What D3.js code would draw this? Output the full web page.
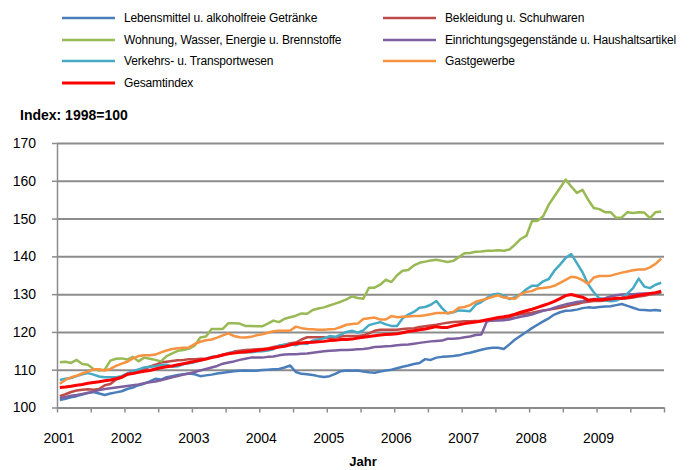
<!DOCTYPE html>
<html>
<head>
<meta charset="utf-8">
<script src="https://cdn.jsdelivr.net/npm/d3@7"></script>
<style>
  body { margin: 0; background: #fff; }
  svg { display: block; font-family: "Liberation Sans", Arial, sans-serif; }
</style>
</head>
<body>
<svg id="chart" width="690" height="470"></svg>
<script>
// monthly values, Jan 2001 .. Dec 2009 (Index 1998 = 100)
var lebensmittel = [
  102.0, 102.3, 102.7, 103.0, 103.4, 103.8, 104.1, 103.7, 103.3, 103.7, 104.0, 104.3,
  104.9, 105.3, 105.9, 106.3, 106.9, 107.6, 107.4, 108.0, 108.3, 108.6, 108.8, 109.0,
  108.8, 108.3, 108.5, 108.7, 109.0, 109.2, 109.4, 109.6, 109.7, 109.8, 109.7, 109.7,
  109.9, 110.0, 110.1, 110.2, 110.6, 111.1, 109.4, 108.9, 108.8, 108.6, 108.3, 108.1,
  108.3, 108.9, 109.6, 109.8, 109.7, 109.8, 109.5, 109.3, 109.2, 109.5, 109.8, 110.0,
  110.4, 110.8, 111.1, 111.5, 111.8, 112.8, 112.6, 113.2, 113.4, 113.5, 113.6, 113.8,
  114.2, 114.5, 114.9, 115.3, 115.6, 115.8, 115.8, 115.5, 116.7, 118.0, 119.0, 120.0,
  121.0, 121.9, 122.8, 123.6, 124.6, 125.2, 125.6, 125.7, 125.9, 126.3, 126.5, 126.4,
  126.6, 126.7, 126.8, 127.1, 127.4, 126.9, 126.4, 125.9, 125.8, 125.7, 125.8, 125.6
];
var bekleidung = [
  103.0, 103.5, 104.1, 104.5, 104.7, 104.8, 104.7, 104.9, 105.9, 106.2, 107.4, 107.9,
  108.7, 109.2, 109.6, 110.0, 110.8, 111.3, 111.9, 112.1, 112.3, 112.5, 112.6, 112.8,
  112.8, 112.9, 113.0, 113.3, 113.6, 114.0, 114.3, 114.8, 115.0, 115.2, 115.3, 115.4,
  115.5, 115.6, 116.0, 116.3, 116.6, 117.0, 117.2, 118.0, 118.6, 118.6, 118.6, 118.6,
  118.3, 118.5, 118.8, 118.9, 118.9, 118.9, 119.1, 119.6, 120.3, 120.6, 120.6, 120.6,
  120.6, 120.8, 120.9, 121.0, 121.3, 121.5, 121.7, 121.9, 122.2, 122.4, 122.6, 122.7,
  122.8, 122.8, 122.9, 122.9, 122.9, 123.0, 123.2, 123.5, 123.8, 124.5, 124.7, 124.9,
  125.1, 125.4, 125.7, 125.9, 126.1, 126.4, 126.7, 127.1, 127.4, 127.8, 128.0, 128.2,
  128.2, 128.3, 128.5, 128.7, 128.8, 128.9, 129.1, 129.4, 129.6, 129.9, 130.1, 130.5
];
var wohnung = [
  112.0, 112.1, 111.8, 112.6, 111.5, 111.3, 110.2, 109.8, 110.0, 112.4, 112.9, 113.0,
  112.7, 113.4, 112.2, 113.2, 112.9, 112.6, 112.2, 113.6, 114.3, 115.0, 115.2, 115.6,
  116.4, 118.5, 118.8, 120.8, 120.8, 120.8, 122.3, 122.3, 122.2, 121.6, 121.6, 121.5,
  121.5, 122.2, 123.0, 122.6, 123.5, 123.9, 124.3, 124.9, 124.8, 125.8, 126.2, 126.5,
  127.0, 127.5, 128.0, 128.6, 129.4, 129.0, 128.8, 131.7, 131.7, 132.5, 133.8, 133.2,
  135.0, 136.2, 136.4, 137.6, 138.3, 138.6, 138.9, 139.1, 138.8, 138.5, 138.8, 139.8,
  140.8, 140.9, 141.2, 141.3, 141.5, 141.5, 141.6, 141.5, 141.8, 143.1, 144.6, 145.4,
  149.3, 149.4, 150.6, 153.7, 155.9, 158.1, 160.3, 158.5, 156.8, 157.6, 155.0, 152.8,
  152.5, 151.7, 151.7, 150.2, 150.3, 151.7, 151.5, 151.7, 151.6, 150.1, 151.7, 151.9
];
var einrichtung = [
  102.5, 102.8, 103.1, 103.3, 103.6, 103.9, 104.2, 104.6, 104.9, 105.1, 105.3, 105.5,
  105.7, 105.9, 106.1, 106.4, 106.7, 106.9, 107.2, 107.6, 108.0, 108.3, 108.7, 109.0,
  109.4, 109.8, 110.2, 110.6, 111.0, 111.6, 111.9, 112.2, 112.6, 112.9, 113.2, 113.2,
  113.2, 113.4, 113.5, 113.8, 114.0, 114.1, 114.1, 114.2, 114.3, 114.5, 114.7, 114.9,
  115.0, 115.1, 115.2, 115.2, 115.3, 115.4, 115.5, 115.7, 116.0, 116.1, 116.2, 116.3,
  116.5, 116.6, 116.7, 116.9, 117.1, 117.3, 117.5, 117.6, 117.7, 118.2, 118.2, 118.3,
  118.6, 118.8, 119.2, 119.3, 122.8, 123.0, 123.0, 123.1, 123.3, 123.7, 124.0, 124.3,
  124.6, 125.1, 125.6, 125.9, 126.4, 126.9, 127.3, 127.6, 127.9, 128.1, 128.4, 128.7,
  128.7, 128.9, 129.4, 129.7, 129.9, 130.0, 130.0, 130.1, 130.2, 130.2, 130.3, 130.5
];
var verkehr = [
  107.3, 107.6, 107.8, 108.3, 108.8, 109.1, 108.7, 108.2, 108.0, 108.0, 108.0, 108.3,
  109.0, 109.6, 110.1, 110.6, 110.8, 110.9, 111.2, 111.3, 110.8, 110.9, 111.5, 111.7,
  112.0, 112.4, 112.8, 113.4, 113.5, 113.8, 114.4, 114.6, 114.7, 114.6, 114.6, 114.8,
  114.9, 115.1, 115.4, 116.4, 116.6, 116.8, 116.5, 117.0, 116.8, 117.7, 118.0, 118.3,
  118.9, 118.7, 119.3, 120.0, 120.3, 119.8, 120.4, 121.8, 122.2, 122.6, 122.0, 121.6,
  121.6, 123.6, 124.6, 125.3, 126.4, 126.6, 127.2, 128.2, 126.3, 124.9, 125.2, 125.7,
  125.6, 125.5, 127.2, 127.9, 129.0, 129.9, 130.1, 129.6, 128.7, 129.2, 130.0, 131.3,
  132.2, 132.2, 133.4, 134.0, 136.2, 137.8, 139.6, 140.6, 138.2, 135.8, 132.6, 130.5,
  128.9, 128.4, 128.1, 128.3, 129.0, 130.2, 131.6, 134.1, 132.0, 131.6, 132.5, 133.0
];
var gastgewerbe = [
  106.3, 107.3, 108.0, 108.4, 109.0, 109.5, 110.1, 110.1, 109.8, 110.2, 111.0, 111.6,
  112.1, 113.0, 113.6, 113.8, 113.8, 114.0, 114.6, 115.1, 115.5, 115.7, 115.8, 115.9,
  116.8, 117.4, 117.8, 118.0, 118.5, 119.1, 119.6, 118.9, 118.6, 118.5, 118.7, 119.1,
  119.4, 119.8, 120.2, 120.3, 120.3, 120.4, 121.4, 121.0, 120.8, 120.7, 120.6, 120.6,
  120.7, 120.8, 121.3, 121.9, 122.1, 122.2, 123.4, 123.6, 123.8, 123.3, 123.3, 124.2,
  123.9, 124.0, 124.1, 124.2, 124.2, 124.4, 124.7, 125.0, 125.0, 125.0, 125.3, 126.4,
  126.6, 127.1, 128.0, 128.4, 128.8, 129.3, 129.7, 129.1, 128.9, 128.8, 130.0, 130.6,
  130.8, 131.5, 131.6, 131.8, 132.2, 133.0, 133.8, 134.6, 134.4, 133.7, 132.7, 134.4,
  134.8, 134.8, 134.9, 135.3, 135.7, 136.0, 136.3, 136.5, 136.5, 137.1, 138.0, 139.4
];
var gesamtindex = [
  105.3, 105.4, 105.6, 105.9, 106.1, 106.4, 106.6, 106.8, 107.1, 107.3, 107.6, 108.0,
  108.8, 109.0, 109.3, 109.6, 109.8, 110.2, 110.5, 110.8, 111.0, 111.3, 111.6, 111.9,
  112.2, 112.5, 112.8, 113.2, 113.5, 113.9, 114.2, 114.4, 114.6, 114.7, 114.9, 115.1,
  115.3, 115.5, 115.7, 116.0, 116.2, 116.6, 116.9, 117.1, 117.2, 117.3, 117.4, 117.5,
  117.7, 117.8, 118.0, 118.0, 118.1, 118.4, 118.6, 118.8, 119.0, 119.2, 119.3, 119.4,
  119.5, 119.8, 120.1, 120.3, 120.6, 120.8, 121.1, 121.4, 121.2, 121.2, 121.6, 121.9,
  122.2, 122.4, 122.6, 122.9, 123.2, 123.5, 123.8, 124.0, 124.3, 124.7, 125.2, 125.6,
  126.0, 126.5, 127.0, 127.5, 128.1, 128.8, 129.6, 129.9, 129.5, 129.2, 128.4, 128.5,
  128.5, 128.6, 128.7, 128.9, 128.9, 129.1, 129.4, 129.7, 129.9, 130.2, 130.4, 130.8
];

var seriesNames = [
  "Lebensmittel u. alkoholfreie Getränke",
  "Bekleidung u. Schuhwaren",
  "Wohnung, Wasser, Energie u. Brennstoffe",
  "Einrichtungsgegenstände u. Haushaltsartikel",
  "Verkehrs- u. Transportwesen",
  "Gastgewerbe",
  "Gesamtindex"
];
var seriesValues = [lebensmittel, bekleidung, wohnung, einrichtung, verkehr, gastgewerbe, gesamtindex];
var seriesColors = ["#4a7ebb", "#be4b48", "#98b954", "#7d60a0", "#46aac5", "#f69240", "#ff0000"];
var yTicks = [100, 110, 120, 130, 140, 150, 160, 170];
var yearLabels = ["2001", "2002", "2003", "2004", "2005", "2006", "2007", "2008", "2009"];

var svg = d3.select("svg#chart"),
    plot = { left: 57, right: 664, top: 143, bottom: 407.5 },
    nMonths = lebensmittel.length,
    x_scale = d3.scaleLinear().domain([0, nMonths]).range([plot.left, plot.right]),
    y_scale = d3.scaleLinear().domain([100, 170]).range([plot.bottom, plot.top]);

// gridlines
svg.append("g")
    .attr("transform", "translate(" + plot.left + ",0)")
    .call(d3.axisLeft(y_scale).tickValues(yTicks.slice(1)).tickSize(-(plot.right - plot.left)).tickFormat(""))
    .call(g => g.select(".domain").remove())
    .selectAll("line")
    .attr("stroke", "#8c8c8c")
    .attr("stroke-width", 2);

// y axis
var yAxis = svg.append("g")
    .attr("transform", "translate(" + plot.left + ",0)")
    .call(d3.axisLeft(y_scale).tickValues(yTicks).tickSize(5).tickPadding(0).tickSizeOuter(0));
yAxis.select(".domain").attr("stroke", "#8c8c8c").attr("stroke-width", 1.5);
yAxis.selectAll(".tick line").attr("stroke", "#8c8c8c").attr("stroke-width", 1.5);
yAxis.selectAll(".tick text")
    .attr("x", -21)
    .style("font-size", "14px")
    .style("font-family", "Liberation Sans, Arial, sans-serif")
    .attr("fill", "#000");

// x axis (half-year ticks)
var xAxis = svg.append("g")
    .attr("transform", "translate(0," + plot.bottom + ")")
    .call(d3.axisBottom(x_scale).tickValues(d3.range(0, nMonths + 1, 6)).tickSize(5).tickFormat("").tickSizeOuter(0));
xAxis.select(".domain").attr("stroke", "#8c8c8c").attr("stroke-width", 2);
xAxis.selectAll(".tick line").attr("stroke", "#8c8c8c").attr("stroke-width", 1.5);

svg.append("g")
    .selectAll("text")
    .data(yearLabels)
    .enter()
    .append("text")
    .attr("x", (d, i) => x_scale(i * 12) + 2)
    .attr("y", 443)
    .attr("text-anchor", "middle")
    .style("font-size", "14px")
    .text(d => d);

// lines
var line = d3.line()
    .x((d, i) => x_scale(i + 0.5))
    .y(d => y_scale(d));

svg.append("g")
    .selectAll("path")
    .data(seriesValues)
    .enter()
    .append("path")
    .attr("d", d => line(d))
    .attr("fill", "none")
    .attr("stroke", (d, i) => seriesColors[i])
    .attr("stroke-width", (d, i) => i === 6 ? 3 : 2.5)
    .attr("stroke-linejoin", "round");

// legend
var legendPos = [
  [62, 18], [383, 18],
  [62, 40], [383, 40],
  [62, 61], [383, 61],
  [62, 83]
];
var legend = svg.append("g").attr("class", "legend");
var items = legend.selectAll("g")
    .data(seriesNames)
    .enter()
    .append("g")
    .attr("transform", (d, i) => "translate(" + legendPos[i][0] + "," + legendPos[i][1] + ")");
items.append("line")
    .attr("x1", 0).attr("x2", 53)
    .attr("y1", 0).attr("y2", 0)
    .attr("stroke", (d, i) => seriesColors[i])
    .attr("stroke-width", (d, i) => i === 6 ? 3 : 2.5);
items.append("text")
    .attr("x", 62)
    .attr("y", 0)
    .attr("dy", "0.35em")
    .style("font-size", "12px")
    .style("letter-spacing", "-0.15px")
    .text(d => d);

// titles
svg.append("text")
    .attr("x", 20)
    .attr("y", 120)
    .style("font-size", "14px")
    .style("font-weight", "bold")
    .text("Index: 1998=100");

svg.append("text")
    .attr("x", 363)
    .attr("y", 466)
    .attr("text-anchor", "middle")
    .style("font-size", "13px")
    .style("font-weight", "bold")
    .text("Jahr");
</script>
</body>
</html>
